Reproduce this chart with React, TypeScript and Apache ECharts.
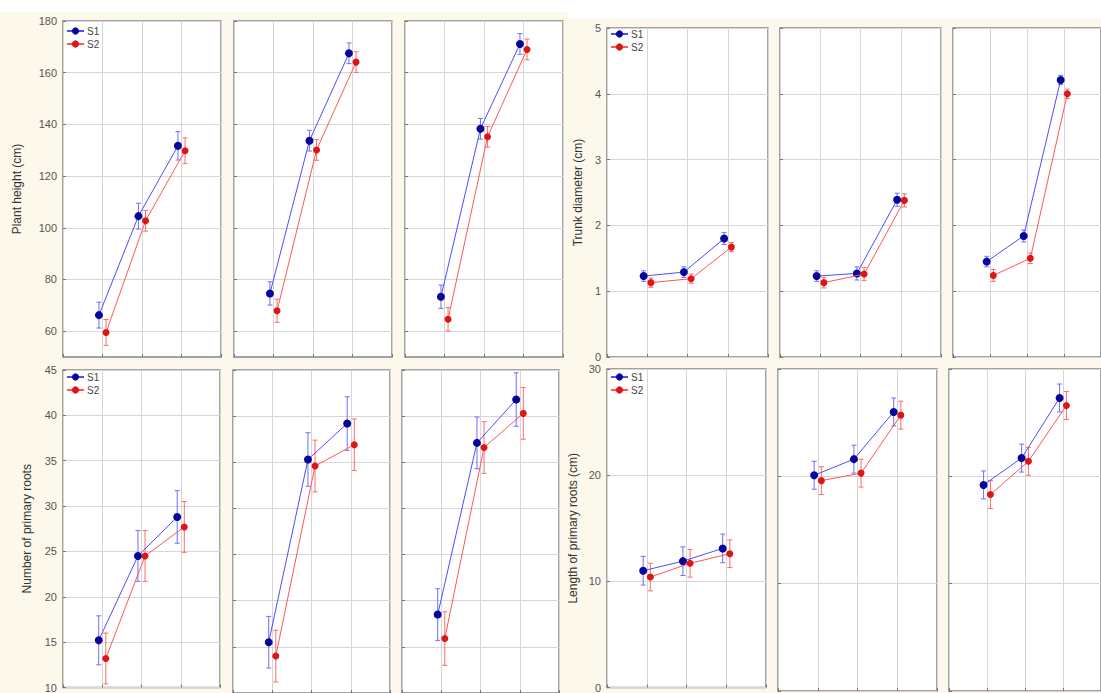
import { useEffect, useRef } from 'react';
import * as echarts from 'echarts';

// Sampling stages shown on each panel's x axis (three per treatment panel)
const stages = [1, 2, 3];
const seriesNames = ['S1', 'S2'];

// Plant height (cm): one row per panel, one value per stage
const heightS1 = [
  [66.2, 104.5, 131.7],
  [74.6, 133.7, 167.5],
  [73.3, 138.3, 171.1],
];
const heightS2 = [
  [59.5, 102.7, 129.8],
  [67.9, 130.1, 164.1],
  [64.6, 135.2, 169.0],
];
const heightErrS1 = [
  [5.0, 5.0, 5.5],
  [4.5, 4.0, 4.0],
  [4.5, 4.0, 4.0],
];
const heightErrS2 = [
  [5.0, 4.0, 5.0],
  [4.5, 4.0, 4.0],
  [4.5, 4.0, 4.0],
];
const heightTicks = [60, 80, 100, 120, 140, 160, 180];

// Trunk diameter (cm)
const trunkS1 = [
  [1.23, 1.29, 1.8],
  [1.23, 1.27, 2.39],
  [1.45, 1.84, 4.21],
];
const trunkS2 = [
  [1.13, 1.19, 1.67],
  [1.13, 1.26, 2.38],
  [1.24, 1.5, 4.0],
];
const trunkErrS1 = [
  [0.08, 0.08, 0.09],
  [0.08, 0.1, 0.1],
  [0.08, 0.09, 0.07],
];
const trunkErrS2 = [
  [0.07, 0.07, 0.07],
  [0.08, 0.1, 0.1],
  [0.09, 0.08, 0.07],
];
const trunkTicks = [0, 1, 2, 3, 4, 5];

// Number of primary roots
const rootsS1 = [
  [15.2, 24.5, 28.8],
  [15.5, 35.3, 39.2],
  [18.5, 37.1, 41.8],
];
const rootsS2 = [
  [13.2, 24.5, 27.7],
  [14.0, 34.6, 36.9],
  [15.9, 36.6, 40.3],
];
const rootsErrS1 = [
  [2.7, 2.8, 2.9],
  [2.8, 2.9, 2.9],
  [2.8, 2.8, 2.9],
];
const rootsErrS2 = [
  [2.8, 2.8, 2.8],
  [2.8, 2.8, 2.8],
  [2.9, 2.8, 2.8],
];
const rootsTicks = [10, 15, 20, 25, 30, 35, 40, 45];

// Length of primary roots (cm)
const lengthS1 = [
  [11.0, 11.9, 13.1],
  [20.1, 21.6, 26.0],
  [19.2, 21.7, 27.3],
];
const lengthS2 = [
  [10.4, 11.7, 12.6],
  [19.6, 20.3, 25.7],
  [18.3, 21.4, 26.6],
];
const lengthErrS1 = [
  [1.35, 1.35, 1.35],
  [1.3, 1.3, 1.3],
  [1.3, 1.3, 1.3],
];
const lengthErrS2 = [
  [1.3, 1.3, 1.3],
  [1.3, 1.3, 1.3],
  [1.3, 1.3, 1.3],
];
const lengthTicks = [0, 10, 20, 30];

const FONT = '"Liberation Sans", Arial, sans-serif';
const S1_MARK = '#06069a';
const S1_LINE = '#4d4dff';
const S2_MARK = '#dd1515';
const S2_LINE = '#ff5656';
const GRID_LINE = '#d6d6d6';
const SHIFT = 0.09; // horizontal dodge between the two series

type Measure = {
  title: string;
  s1: number[][];
  s2: number[][];
  e1: number[][];
  e2: number[][];
  ticks: number[];
  min: number;
  max: number;
  top: number;
  height: number;
  lefts: number[];
  width: number;
  nameGap: number;
  legendLeft: number;
  legendTop: number;
};

const measures: Measure[] = [
  {
    title: 'Plant height (cm)', s1: heightS1, s2: heightS2, e1: heightErrS1, e2: heightErrS2,
    ticks: heightTicks, min: 50, max: 180,
    top: 21, height: 336, lefts: [63, 234, 405], width: 158, nameGap: 40, legendLeft: 66, legendTop: 26,
  },
  {
    title: 'Trunk diameter (cm)', s1: trunkS1, s2: trunkS2, e1: trunkErrS1, e2: trunkErrS2,
    ticks: trunkTicks, min: 0, max: 5,
    top: 28, height: 329, lefts: [607, 780, 953], width: 161, nameGap: 23, legendLeft: 610, legendTop: 29,
  },
  {
    title: 'Number of primary roots', s1: rootsS1, s2: rootsS2, e1: rootsErrS1, e2: rootsErrS2,
    ticks: rootsTicks, min: 10, max: 45,
    top: 370, height: 323, lefts: [63, 233, 402], width: 157, nameGap: 30, legendLeft: 66, legendTop: 372,
  },
  {
    title: 'Length of primary roots (cm)', s1: lengthS1, s2: lengthS2, e1: lengthErrS1, e2: lengthErrS2,
    ticks: lengthTicks, min: 0, max: 30,
    top: 369, height: 322, lefts: [607, 778, 949], width: 159, nameGap: 28, legendLeft: 610, legendTop: 372,
  },
];

function errorBarRenderer(color: string) {
  return (_params: any, api: any) => {
    const x = api.value(0);
    const lo = api.coord([x, api.value(1)]);
    const hi = api.coord([x, api.value(2)]);
    const cap = 2.5;
    const style = { stroke: color, lineWidth: 1 };
    return {
      type: 'group',
      children: [
        { type: 'line', shape: { x1: lo[0], y1: lo[1], x2: hi[0], y2: hi[1] }, style },
        { type: 'line', shape: { x1: lo[0] - cap, y1: lo[1], x2: lo[0] + cap, y2: lo[1] }, style },
        { type: 'line', shape: { x1: hi[0] - cap, y1: hi[1], x2: hi[0] + cap, y2: hi[1] }, style },
      ],
    };
  };
}

function buildOption() {
  const grid: any[] = [];
  const xAxis: any[] = [];
  const yAxis: any[] = [];
  const series: any[] = [];
  const legend: any[] = [];

  measures.forEach((m) => {
    legend.push({
      data: seriesNames,
      orient: 'vertical',
      left: m.legendLeft,
      top: m.legendTop,
      itemWidth: 17,
      itemHeight: 9,
      itemGap: 3,
      padding: 0,
      selectedMode: false,
      textStyle: { fontSize: 10, color: '#444', fontFamily: FONT, padding: [0, 0, 0, -2] },
    });

    m.lefts.forEach((left, p) => {
      const idx = grid.length;
      grid.push({
        left, top: m.top, width: m.width, height: m.height,
        show: true, backgroundColor: '#ffffff', borderColor: '#858585', borderWidth: 1.5,
      });
      xAxis.push({
        type: 'value', gridIndex: idx, min: 0, max: 4, interval: 1,
        axisLine: { show: false },
        axisLabel: { show: false },
        axisTick: { show: true, inside: true, length: 3, lineStyle: { color: '#777' } },
        splitLine: { show: true, lineStyle: { color: GRID_LINE, width: 1 } },
      });
      yAxis.push({
        type: 'value', gridIndex: idx, min: m.min, max: m.max,
        name: p === 0 ? m.title : '',
        nameLocation: 'middle',
        nameGap: m.nameGap,
        nameTextStyle: { fontSize: 12, color: '#333', fontFamily: FONT },
        axisLine: { show: false },
        axisTick: { show: true, inside: true, length: 3, lineStyle: { color: '#777' }, customValues: m.ticks },
        axisLabel: {
          show: p === 0, fontSize: 11, color: '#555', fontFamily: FONT, margin: 6,
          customValues: m.ticks,
        },
        splitLine: { show: true, lineStyle: { color: GRID_LINE, width: 1 } },
      });

      const s1 = stages.map((s, k) => [s - SHIFT, m.s1[p][k]]);
      const s2 = stages.map((s, k) => [s + SHIFT, m.s2[p][k]]);
      const e1 = stages.map((s, k) => [s - SHIFT, m.s1[p][k] - m.e1[p][k], m.s1[p][k] + m.e1[p][k]]);
      const e2 = stages.map((s, k) => [s + SHIFT, m.s2[p][k] - m.e2[p][k], m.s2[p][k] + m.e2[p][k]]);

      series.push(
        {
          type: 'custom', xAxisIndex: idx, yAxisIndex: idx, data: e1, z: 2,
          renderItem: errorBarRenderer('#6f6fff'), encode: { x: 0, y: [1, 2] }, silent: true,
        },
        {
          type: 'custom', xAxisIndex: idx, yAxisIndex: idx, data: e2, z: 2,
          renderItem: errorBarRenderer('#ff6b6b'), encode: { x: 0, y: [1, 2] }, silent: true,
        },
        {
          type: 'line', name: seriesNames[0], xAxisIndex: idx, yAxisIndex: idx, data: s1, z: 3,
          symbol: 'circle', symbolSize: 8,
          itemStyle: { color: S1_MARK },
          lineStyle: { color: S1_LINE, width: 1 },
        },
        {
          type: 'line', name: seriesNames[1], xAxisIndex: idx, yAxisIndex: idx, data: s2, z: 4,
          symbol: 'circle', symbolSize: 7,
          itemStyle: { color: S2_MARK },
          lineStyle: { color: S2_LINE, width: 1 },
        },
      );
    });
  });

  return {
    animation: false,
    backgroundColor: '#fcf8ec',
    textStyle: { fontFamily: FONT },
    graphic: [
      { type: 'rect', shape: { x: 0, y: 0, width: 568, height: 12 }, style: { fill: '#ffffff' }, silent: true, z: -10 },
      { type: 'rect', shape: { x: 568, y: 0, width: 533, height: 19 }, style: { fill: '#ffffff' }, silent: true, z: -10 },
    ],
    legend,
    grid,
    xAxis,
    yAxis,
    series,
  };
}

export default function App() {
  const ref = useRef<HTMLDivElement>(null);

  useEffect(() => {
    if (!ref.current) return;
    const chart = echarts.init(ref.current, undefined, { renderer: 'svg' });
    chart.setOption(buildOption() as any);
    return () => chart.dispose();
  }, []);

  return (
    <div
      ref={ref}
      style={{ position: 'absolute', left: 0, top: 0, width: 1101, height: 693 }}
    />
  );
}
